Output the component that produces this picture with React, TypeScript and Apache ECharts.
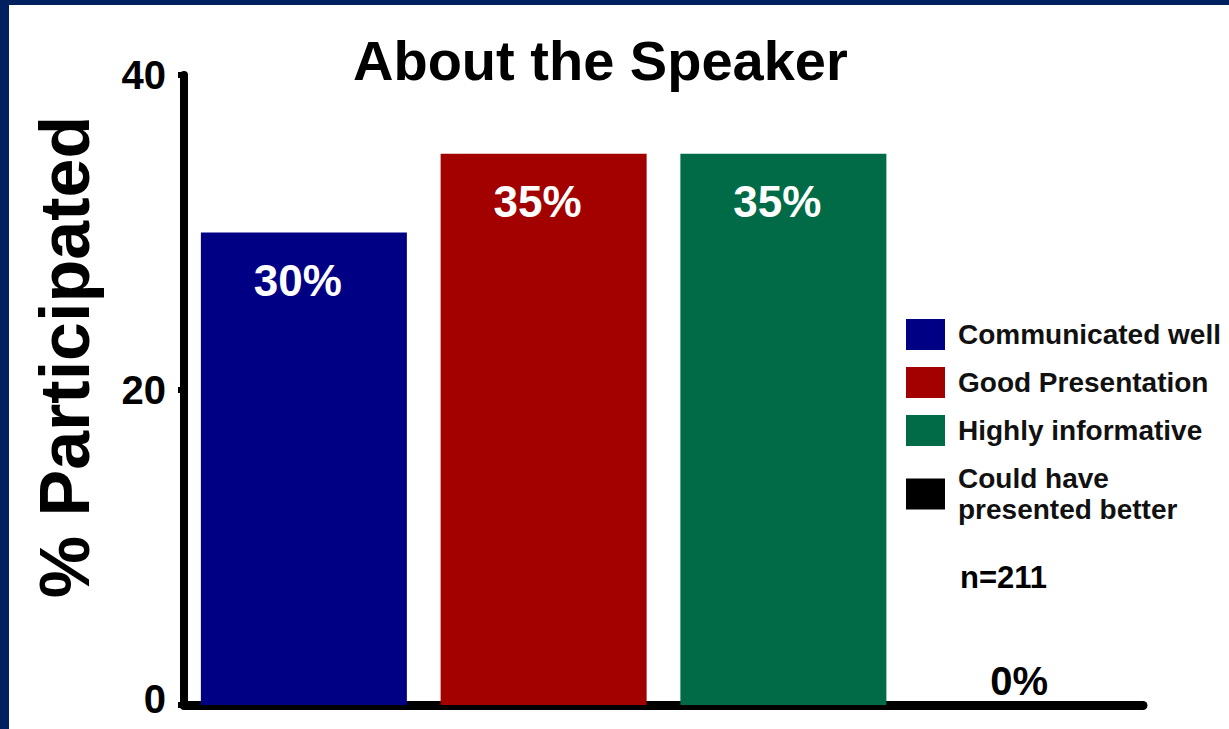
import React, { useEffect, useRef } from "react";
import * as echarts from "echarts";

const categories = [
  "Communicated well",
  "Good Presentation",
  "Highly informative",
  "Could have presented better",
];
const legendNames = [
  "Communicated well",
  "Good Presentation",
  "Highly informative",
  "Could have\npresented better",
];
const values = [30, 35, 35, 0];
const colors = ["#000085", "#a30000", "#006b46", "#000000"];
const titleText = "About the Speaker";
const yAxisTitle = "% Participated";
const sampleNote = "n=211";
const yMin = 0;
const yMax = 40;
const yInterval = 20;

const FONT = "'Liberation Sans', Arial, Helvetica, sans-serif";

export default function App() {
  const ref = useRef<HTMLDivElement>(null);

  useEffect(() => {
    if (!ref.current) return;
    const chart = echarts.init(ref.current, undefined, { renderer: "svg" });
    const series = categories.map((_, i) => ({
      name: legendNames[i],
      type: "bar",
      data: values.map((v, j) => (j === i ? v : "-")),
      barWidth: 206,
      barGap: "-100%",
      itemStyle: { color: colors[i] },
      label: {
        show: true,
        position: values[i] > 0 ? "insideTop" : "top",
        distance: values[i] > 0 ? 26 : 4,
        offset: values[i] > 0 ? [-6, 0] : [-4, 0],
        formatter: "{c}%",
        color: values[i] > 0 ? "#ffffff" : "#000000",
        fontSize: values[i] > 0 ? 44 : 40,
        fontWeight: "bold",
        fontFamily: FONT,
      },
    }));

    const tickStyle = { fontSize: 40, fontWeight: "bold", color: "#000", fontFamily: FONT, lineHeight: 36 };

    chart.setOption({
      animation: false,
      backgroundColor: "#ffffff",
      textStyle: { fontFamily: FONT },
      title: {
        text: titleText,
        left: 353,
        top: 32,
        padding: 0,
        textStyle: { fontSize: 56, fontWeight: "bold", color: "#000", fontFamily: FONT },
      },
      legend: {
        orient: "vertical",
        left: 906,
        top: 319,
        padding: 0,
        itemWidth: 39,
        itemHeight: 31,
        itemGap: 17,
        icon: "rect",
        data: legendNames,
        textStyle: {
          fontSize: 28,
          fontWeight: "bold",
          color: "#111",
          lineHeight: 31,
          padding: [0, 0, 0, 8],
          fontFamily: FONT,
        },
      },
      grid: { left: 184, right: 86, top: 75, bottom: 17, containLabel: false },
      xAxis: {
        type: "category",
        data: categories,
        axisLine: { show: true, lineStyle: { color: "#000", width: 9 } },
        axisTick: { show: false },
        axisLabel: { show: false },
      },
      yAxis: {
        type: "value",
        min: yMin,
        max: yMax,
        interval: yInterval,
        name: yAxisTitle,
        nameLocation: "middle",
        nameRotate: 90,
        nameGap: 84,
        nameTextStyle: {
          fontSize: 70,
          fontWeight: "bold",
          color: "#000",
          fontFamily: FONT,
          padding: [0, 0, 0, 66],
        },
        axisLine: { show: true, lineStyle: { color: "#000", width: 8 } },
        axisTick: { show: true, length: 6, lineStyle: { color: "#000", width: 6 } },
        axisLabel: {
          margin: 18,
          formatter: (v: number) => (v === 0 ? "{z|0}\n{s| }" : "{n|" + v + "}"),
          rich: {
            n: { ...tickStyle },
            z: { ...tickStyle },
            s: { fontSize: 8, lineHeight: 12, height: 12 },
          },
        },
        splitLine: { show: false },
      },
      graphic: [
        { type: "rect", left: 0, top: 0, shape: { width: 1229, height: 5 }, style: { fill: "#002060" } },
        { type: "rect", left: 0, top: 0, shape: { width: 9, height: 729 }, style: { fill: "#002060" } },
        {
          type: "text",
          left: 960,
          top: 562,
          style: { text: sampleNote, fill: "#000", font: `bold 31px ${FONT}` },
        },
      ],
      series,
    });
    return () => chart.dispose();
  }, []);

  return (
    <div style={{ position: "fixed", left: 0, top: 0, width: 1229, height: 729, background: "#fff" }}>
      <div ref={ref} style={{ width: 1229, height: 729 }} />
    </div>
  );
}
